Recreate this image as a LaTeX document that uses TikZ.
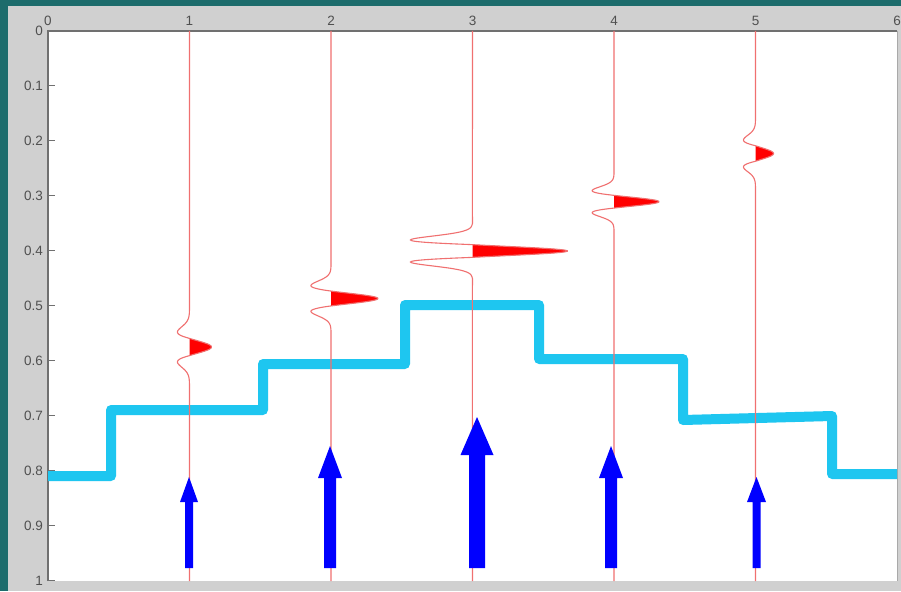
\documentclass[tikz,border=0pt]{standalone}
\usepackage{fontspec}
\setmainfont{Liberation Sans}
\definecolor{teal0}{HTML}{1D6C6C}
\definecolor{panel}{HTML}{D0D0D0}
\definecolor{axisgray}{HTML}{707070}
\definecolor{labelgray}{HTML}{505050}
\definecolor{layercyan}{HTML}{1EC6F0}
\definecolor{tracered}{HTML}{F07070}
\begin{document}
\begin{tikzpicture}[x=1pt,y=-1pt,
  declare function={wav(\u)=(1-2*\u*\u)*exp(-\u*\u);},
  ticklabel/.style={font=\fontsize{13.5}{14}\selectfont, text=labelgray, inner sep=0pt},
  axisline/.style={axisgray, line width=1.6pt},
  tickmark/.style={axisgray, line width=1.2pt},
  boundary/.style={layercyan, line width=10pt, line join=round},
  tracepen/.style={tracered, line width=1.1pt},
  lobe/.style={fill=red},
  raypen/.style={fill=blue}]
  % frame, panel and plot area
  \fill[teal0] (0,0) rectangle (901,591);
  \useasboundingbox (0,0) rectangle (901,591);
  \fill[panel] (8,6) rectangle (901,591);
  \fill[white] (48,31) rectangle (897,581);
  \draw[axisgray!60, line width=1pt] (897,31) -- (897,581);

  % axes
  \draw[axisline] (48,581) -- (48,31) -- (897,31);
  \foreach \k in {0,...,6} {
    \node[ticklabel] (xl\k) at (48+141.5*\k,21) {\k};
  }
  \foreach \i/\lab in {0/0,1/0.1,2/0.2,3/0.3,4/0.4,5/0.5,6/0.6,7/0.7,8/0.8,9/0.9,10/1} {
    \draw[tickmark] (48,30.5+55*\i) -- (55,30.5+55*\i);
    \node[ticklabel, anchor=east] (yl\i) at (43,30.5+55*\i) {\lab};
  }

  % stepped boundary
  \draw[boundary] (48,476) -- (111,476) -- (111,410) -- (263,410) -- (263,364)
    -- (405,364) -- (405,305) -- (539,305) -- (539,359) -- (683,359)
    -- (683,420) -- (832,416) -- (832,474) -- (897,474);

  % seismic traces: x0 / centre / width / positive amp / negative gain
  \foreach \xo/\yc/\sg/\A/\B in {189.5/347/12.2/22/27, 331/298.5/10.5/47/45,
      472.5/251/9/95/139, 614/201.7/9/45/49, 755.5/153.5/11/18/27} {
    \fill[lobe] plot[domain=-0.7071:0.7071, samples=40, variable=\u]
      ({\xo+\A*wav(\u)},{\yc+\sg*\u}) -- cycle;
    \draw[tracepen] (\xo,31) -- plot[domain=-5:5, samples=160, variable=\u]
      ({\xo+(wav(\u)>0 ? \A*wav(\u) : \B*wav(\u))},{\yc+\sg*\u}) -- (\xo,581);
  }

  % upgoing rays: x / tip / head base / head width / shaft width
  \foreach \ax/\tip/\hb/\hw/\sw in {189/477/502/18/8, 330/446/478/24/12,
      477/417/455/33/16, 611/446/478/24/12, 756.5/477/502/19/8} {
    \fill[raypen] (\ax-\sw/2,568) -- (\ax-\sw/2,\hb) -- (\ax-\hw/2,\hb) -- (\ax,\tip)
      -- (\ax+\hw/2,\hb) -- (\ax+\sw/2,\hb) -- (\ax+\sw/2,568) -- cycle;
  }
\end{tikzpicture}
\end{document}
